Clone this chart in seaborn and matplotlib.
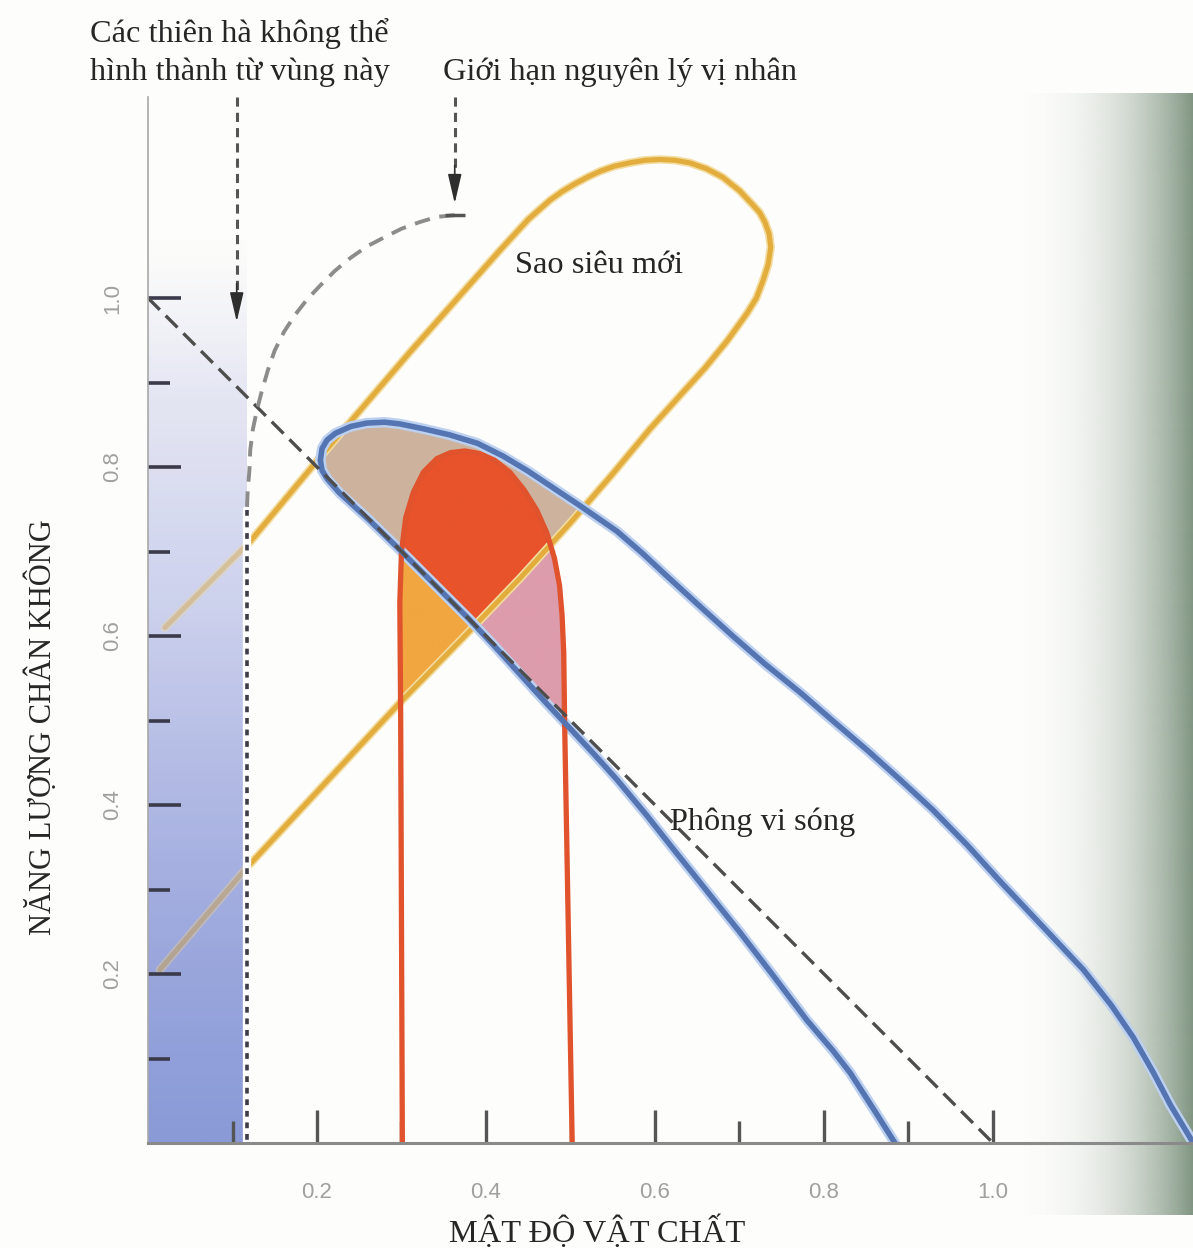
import numpy as np
import matplotlib
matplotlib.use("Agg")
import matplotlib.pyplot as plt
from matplotlib.path import Path
from matplotlib.colors import LinearSegmentedColormap, to_rgb
import seaborn as sns

# ---------------- data: (matter density, vacuum energy) ----------------
# supernova constraint loop (lower edge -> cap -> upper edge)
sn_x = [0.014, 0.117, 0.219, 0.298, 0.373, 0.440, 0.499, 0.550, 0.594, 0.630,
        0.659, 0.686, 0.709, 0.720, 0.728, 0.734, 0.737, 0.735, 0.730, 0.724,
        0.716, 0.700, 0.680, 0.661, 0.641, 0.624, 0.606, 0.588, 0.570, 0.552,
        0.535, 0.520, 0.505, 0.490, 0.476, 0.450, 0.417, 0.310, 0.204, 0.121,
        0.020]
sn_y = [0.205, 0.326, 0.436, 0.521, 0.598, 0.668, 0.733, 0.792, 0.845, 0.885,
        0.917, 0.950, 0.982, 1.000, 1.021, 1.040, 1.060, 1.076, 1.090, 1.101,
        1.110, 1.127, 1.143, 1.153, 1.160, 1.163, 1.164, 1.163, 1.160, 1.156,
        1.150, 1.143, 1.135, 1.126, 1.116, 1.093, 1.057, 0.936, 0.812, 0.712,
        0.610]

# microwave background contour: outer and inner edges, both from the tip
cmb_outer_x = [0.204, 0.206, 0.212, 0.222, 0.240, 0.259, 0.280, 0.298, 0.327,
               0.357, 0.390, 0.420, 0.450, 0.480, 0.510, 0.555, 0.585, 0.614,
               0.650, 0.692, 0.730, 0.772, 0.810, 0.851, 0.890, 0.929, 0.970,
               1.010, 1.060, 1.107, 1.140, 1.166, 1.190, 1.210, 1.237]
cmb_outer_y = [0.808, 0.822, 0.832, 0.840, 0.848, 0.852, 0.853, 0.851, 0.845,
               0.838, 0.828, 0.813, 0.795, 0.775, 0.755, 0.724, 0.698, 0.671,
               0.638, 0.600, 0.567, 0.533, 0.500, 0.465, 0.430, 0.394, 0.352,
               0.308, 0.255, 0.205, 0.163, 0.125, 0.083, 0.045, 0.000]
cmb_inner_x = [0.204, 0.206, 0.212, 0.226, 0.262, 0.300, 0.340, 0.380, 0.410,
               0.440, 0.470, 0.500, 0.528, 0.555, 0.590, 0.620, 0.660, 0.700,
               0.740, 0.780, 0.810, 0.831, 0.860, 0.884]
cmb_inner_y = [0.808, 0.796, 0.786, 0.770, 0.737, 0.700, 0.660, 0.620, 0.588,
               0.555, 0.522, 0.490, 0.460, 0.430, 0.388, 0.350, 0.300, 0.250,
               0.198, 0.145, 0.110, 0.083, 0.038, 0.000]

# galaxy-cluster constraint (inverted U)
cl_x = [0.301, 0.299, 0.298, 0.300, 0.305, 0.314, 0.326, 0.342, 0.358, 0.375,
        0.392, 0.410, 0.428, 0.445, 0.460, 0.472, 0.481, 0.487, 0.490, 0.492,
        0.493, 0.502]
cl_y = [0.000, 0.509, 0.640, 0.700, 0.740, 0.770, 0.794, 0.810, 0.817, 0.819,
        0.816, 0.808, 0.794, 0.773, 0.749, 0.722, 0.692, 0.660, 0.625, 0.580,
        0.500, 0.000]

# flat-universe line
flat_x = [0.0, 1.0]
flat_y = [1.0, 0.0]

# anthropic limit (curved part, then vertical boundary)
anth_x = [0.363, 0.342, 0.322, 0.300, 0.280, 0.259, 0.239, 0.221, 0.204, 0.188,
          0.174, 0.161, 0.150, 0.142, 0.135, 0.129, 0.124, 0.121, 0.120, 0.118,
          0.117]
anth_y = [1.098, 1.096, 1.090, 1.082, 1.072, 1.061, 1.047, 1.032, 1.015, 0.998,
          0.980, 0.960, 0.938, 0.915, 0.891, 0.868, 0.844, 0.820, 0.796, 0.772,
          0.749]
wall_x = [0.117, 0.117]
wall_y = [0.749, 0.0]

xticks_major = [0.2, 0.4, 0.6, 0.8, 1.0]
xticks_minor = [0.1, 0.3, 0.5, 0.7, 0.9]
xtick_labels = ["0.2", "0.4", "0.6", "0.8", "1.0"]
yticks_major = [0.2, 0.4, 0.6, 0.8, 1.0]
yticks_minor = [0.1, 0.3, 0.5, 0.7, 0.9]
ytick_labels = ["0.2", "0.4", "0.6", "0.8", "1.0"]

# ---------------- figure ----------------
sns.set_theme(style="white")
plt.rcParams["font.family"] = ["Liberation Serif", "DejaVu Serif"]

W, H = 1193, 1248
fig = plt.figure(figsize=(W / 100, H / 100), dpi=100)
fig.patch.set_facecolor("#fdfdfb")

# page shadow along the right edge
bg = fig.add_axes([0, 0, 1, 1], zorder=0)
bg.set_axis_off()
cols = np.linspace(0, 1, W)
shade = np.zeros((1, W, 4))
t = np.clip((cols - 0.838) / 0.162, 0, 1)
shade[0, :, :3] = np.array(to_rgb("#7d937f"))
shade[0, :, 3] = t ** 2.6 * 0.97
bg.imshow(shade, extent=(0, 1, (H - 1215) / H, (H - 93) / H), aspect="auto",
          interpolation="bilinear", transform=bg.transAxes)
bg.set_xlim(0, 1)
bg.set_ylim(0, 1)

x0, y0 = 148, 1143
scale = 845.0
xmax = (W - x0) / scale
ymax = (y0 - 97) / scale
ax = fig.add_axes([x0 / W, (H - y0) / H, (W - x0) / W, (y0 - 97) / H], zorder=1)
ax.set_facecolor("none")

# overlap shading of the three constraints
gx = np.linspace(0, xmax, 1300)
gy = np.linspace(0, ymax, 1300)
GX, GY = np.meshgrid(gx, gy)
pts = np.column_stack([GX.ravel(), GY.ravel()])


def inside(xs, ys):
    return Path(np.column_stack([xs, ys])).contains_points(pts).reshape(GX.shape)


Y = inside(sn_x, sn_y)
B = inside(cmb_outer_x + cmb_inner_x[::-1], cmb_outer_y + cmb_inner_y[::-1])
R = inside(cl_x, cl_y)
img = np.zeros(GX.shape + (4,))
for mask, col in [(B & Y & ~R, "#cdb39e"), (R & Y & ~B, "#f1a640"),
                  (R & B & ~Y, "#dd9cac"), (R & B & Y, "#e8532b")]:
    img[mask] = (*to_rgb(col), 1.0)
ax.imshow(img, extent=(0, xmax, 0, ymax), origin="lower", aspect="auto",
          interpolation="bilinear", zorder=1)

# shaded region where galaxies cannot form (two layers around the loop lines)
grad = LinearSegmentedColormap.from_list(
    "wall", ["#7b8ed3", "#8e9cd9", "#a9b2e2", "#c8cdec", "#dfe1f2", "#f2f2f8"])
ny = 400
tt = np.linspace(0, 1, ny)
gcol = grad(tt)[:, None, :].copy()
fade = np.clip(1.0 - np.clip((tt - 0.82) / 0.18, 0, 1), 0, 1)
under = gcol.copy()
under[:, 0, 3] = fade * 0.75
over = gcol.copy()
over[:, 0, 3] = fade * 0.55
ax.imshow(under, extent=(0.0, 0.117, 0.0, 1.07), origin="lower", aspect="auto",
          interpolation="bilinear", zorder=1.5)

# supernova loop
sns.lineplot(x=sn_x, y=sn_y, sort=False, estimator=None, ax=ax, color="#f3dca0",
             linewidth=6.0, zorder=2, solid_capstyle="round", solid_joinstyle="round")
sns.lineplot(x=sn_x, y=sn_y, sort=False, estimator=None, ax=ax, color="#e2ad3c",
             linewidth=3.6, zorder=2, solid_capstyle="round", solid_joinstyle="round")

ax.imshow(over, extent=(0.0, 0.117, 0.0, 1.07), origin="lower", aspect="auto",
          interpolation="bilinear", zorder=3)

# microwave background contour
for xs, ys in [(cmb_outer_x, cmb_outer_y), (cmb_inner_x, cmb_inner_y)]:
    sns.lineplot(x=xs, y=ys, sort=False, estimator=None, ax=ax, color="#bcd0f0",
                 linewidth=7.5, zorder=4, solid_capstyle="round", solid_joinstyle="round")
for xs, ys in [(cmb_outer_x, cmb_outer_y), (cmb_inner_x, cmb_inner_y)]:
    sns.lineplot(x=xs, y=ys, sort=False, estimator=None, ax=ax, color="#5574b2",
                 linewidth=4.0, zorder=5, solid_capstyle="round", solid_joinstyle="round")

# cluster contour
sns.lineplot(x=cl_x, y=cl_y, sort=False, estimator=None, ax=ax, color="#e0532c",
             linewidth=3.8, zorder=4.5, solid_capstyle="butt", solid_joinstyle="round")

# flat-universe line
ax.plot(flat_x, flat_y, color="#4d4d4d", linewidth=2.4, dashes=(5, 2.5), zorder=6)

# anthropic limit
ax.plot(anth_x, anth_y, color="#8c8c8c", linewidth=2.8, dashes=(4, 2.5), zorder=6)
ax.plot(wall_x, wall_y, color="white", linewidth=6, zorder=5.8)
ax.plot(wall_x, wall_y, color="#3d3d48", linewidth=2.6, dashes=(1.6, 1.6), zorder=6)
ax.plot([anth_x[0]], [anth_y[0]], marker="_", markersize=14, mew=2.5,
        color="#555555", zorder=6)

# pointer arrows from the captions
for ax_x, tip in [(0.105, 0.972), (0.363, 1.112)]:
    ax.plot([ax_x, ax_x], [ymax, tip + 0.03], color="#555555", linewidth=2.2,
            dashes=(3, 2), zorder=6, clip_on=False)
    ax.annotate("", xy=(ax_x, tip), xytext=(ax_x, tip + 0.045),
                arrowprops=dict(arrowstyle="-|>,head_length=1.5,head_width=0.35",
                                color="#2e2e2e", lw=1.2, shrinkA=0, shrinkB=0),
                zorder=7, annotation_clip=False)

# axes, ticks (above the shaded wall, below the contour lines)
ax.set_xlim(0, xmax)
ax.set_ylim(0, ymax)
for side in ["top", "right"]:
    ax.spines[side].set_visible(False)
ax.spines["left"].set_color("#a8a8a8")
ax.spines["left"].set_linewidth(1.2)
ax.spines["bottom"].set_color("#8a8a8a")
ax.spines["bottom"].set_linewidth(2.2)
ax.spines["left"].set_zorder(6)
ax.spines["bottom"].set_zorder(6)
ax.xaxis.set_zorder(3.5)
ax.yaxis.set_zorder(3.5)

ax.set_xticks(xticks_major)
ax.set_xticks(xticks_minor, minor=True)
ax.set_xticklabels(xtick_labels, fontfamily="Liberation Sans", fontsize=16,
                   color="#a0a0a0")
ax.set_yticks(yticks_major)
ax.set_yticks(yticks_minor, minor=True)
ax.set_yticklabels(ytick_labels, fontfamily="Liberation Sans", fontsize=16,
                   color="#a0a0a0", rotation=90, va="center")
ax.tick_params(which="both", bottom=True, left=True, top=False, right=False)
ax.tick_params(axis="x", which="major", direction="in", length=24, width=2.4,
               color="#555555", pad=28)
ax.tick_params(axis="x", which="minor", direction="in", length=16, width=2.4,
               color="#555555")
ax.tick_params(axis="y", which="major", direction="in", length=24, width=2.6,
               color="#3a3a4a", pad=18)
ax.tick_params(axis="y", which="minor", direction="in", length=16, width=2.6,
               color="#3a3a4a")
ax.grid(False)

# labels inside the plot
txt = dict(fontsize=23.3, color="#262626")
ax.text(0.434, 1.039, "Sao siêu mới", ha="left", va="center", zorder=8, **txt)
ax.text(0.618, 0.380, "Phông vi sóng", ha="left", va="center", zorder=8, **txt)

# captions and axis titles
fig.text(90 / W, 1 - 33 / H, "Các thiên hà không thể", ha="left", va="center", **txt)
fig.text(90 / W, 1 - 72 / H, "hình thành từ vùng này", ha="left", va="center", **txt)
fig.text(443 / W, 1 - 72 / H, "Giới hạn nguyên lý vị nhân", ha="left", va="center", **txt)
fig.text(597 / W, 1 - 1232 / H, "MẬT ĐỘ VẬT CHẤT", ha="center", va="center", **txt)
fig.text(42 / W, 1 - 727 / H, "NĂNG LƯỢNG CHÂN KHÔNG", ha="center", va="center",
         rotation=90, fontsize=22, color="#262626")

fig.savefig("out.png", dpi=100)
